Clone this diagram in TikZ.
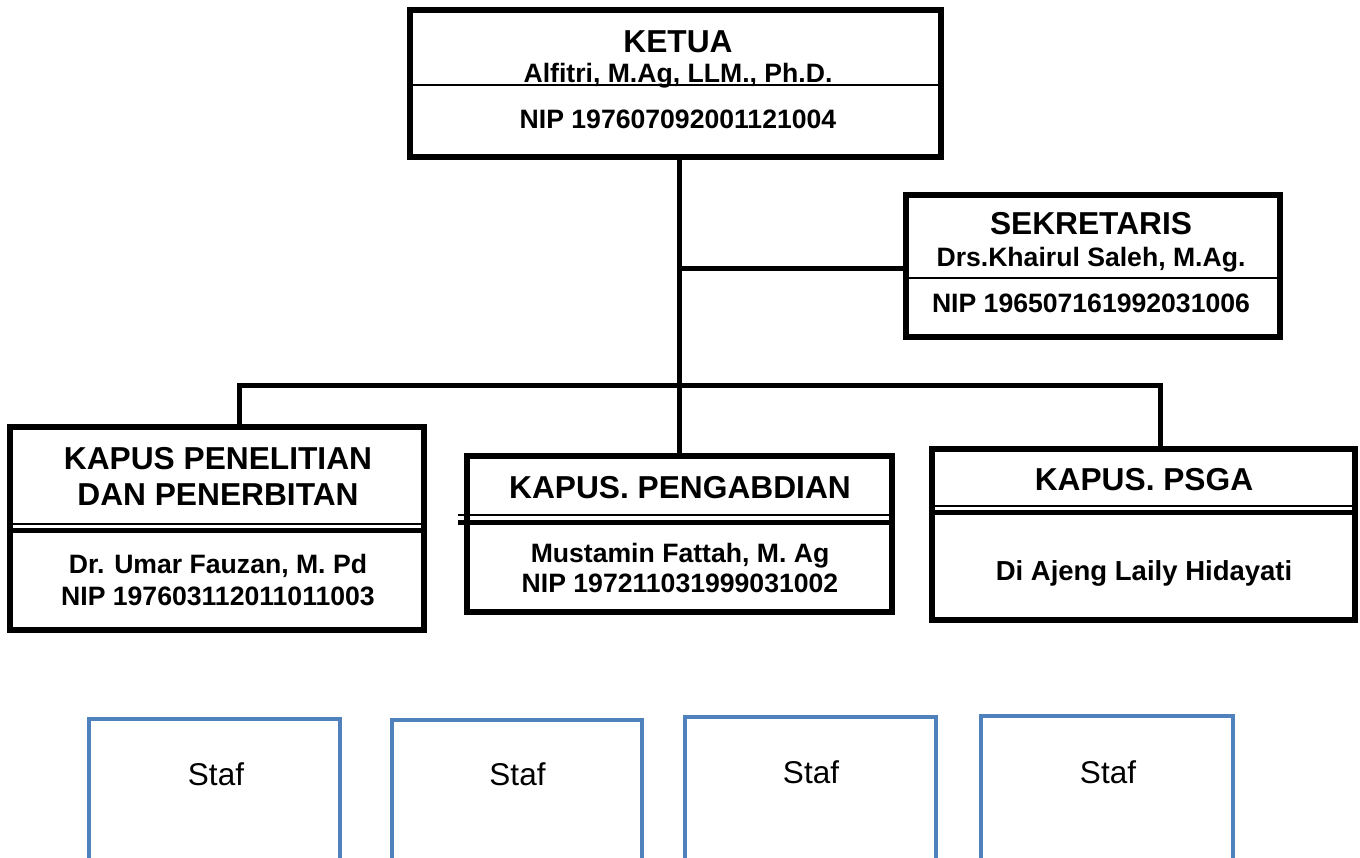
\documentclass[tikz,border=0pt]{standalone}
\usepackage{fontspec}
\setmainfont{Liberation Sans}
\definecolor{stafblue}{HTML}{4F81BD}
\begin{document}
\begin{tikzpicture}[x=1pt,y=-1pt,
  orgbox/.style={draw=black, line width=5.5pt, rectangle, inner sep=0pt, fill=white},
  link/.style={draw=black, line width=5pt},
  divline/.style={draw=black, line width=1.6pt},
  thickdiv/.style={draw=black, line width=5pt},
  titletext/.style={font=\bfseries\fontsize{31.7}{36}\selectfont, anchor=base, inner sep=0pt},
  nametext/.style={font=\bfseries\fontsize{26.6}{31}\selectfont, anchor=base, inner sep=0pt},
  staftext/.style={font=\fontsize{31.5}{36}\selectfont, anchor=base, inner sep=0pt},
  stafbox/.style={draw=stafblue, line width=4.5pt, rectangle, inner sep=0pt, minimum width=251pt},
]
\useasboundingbox (0,0) rectangle (1360,858);

% boxes
\node[orgbox, minimum width=531pt, minimum height=147pt] (ketua) at (675.5,83.5) {};
\node[orgbox, minimum width=374pt, minimum height=142pt] (sek) at (1093,266) {};
\node[orgbox, minimum width=414pt, minimum height=203pt] (kpen) at (217,528.5) {};
\node[orgbox, minimum width=425pt, minimum height=156pt] (kpeng) at (679.5,534) {};
\node[orgbox, minimum width=423pt, minimum height=171pt] (kpsga) at (1143.5,534.5) {};

% dividers
\draw[divline] ([yshift=-78pt]ketua.north west) -- ([yshift=-78pt]ketua.north east);
\draw[divline] ([yshift=-86pt]sek.north west) -- ([yshift=-86pt]sek.north east);
\draw[divline] ([yshift=-99.5pt]kpen.north west) -- ([yshift=-99.5pt]kpen.north east);
\draw[thickdiv] ([yshift=-106pt]kpen.north west) -- ([yshift=-106pt]kpen.north east);
\draw[divline] ([yshift=-62pt,xshift=-6pt]kpeng.north west) -- ([yshift=-62pt]kpeng.north east);
\draw[thickdiv] ([yshift=-69.5pt,xshift=-6pt]kpeng.north west) -- ([yshift=-69.5pt]kpeng.north east);
\draw[divline] ([yshift=-60pt]kpsga.north west) -- ([yshift=-60pt]kpsga.north east);
\draw[thickdiv] ([yshift=-66.5pt]kpsga.north west) -- ([yshift=-66.5pt]kpsga.north east);

% connectors
\coordinate (busL) at (239.5,386);
\coordinate (busR) at (1160,386);
\draw[link] (kpeng.north |- ketua.south) -- (kpeng.north);
\draw[link] ([yshift=-3pt]sek.west) -- ([yshift=-3pt]sek.west -| kpeng.north);
\draw[link] (kpen.north -| busL) -- (busL) -- (busR) -- (kpsga.north -| busR);

% texts
\node[titletext] (tketua) at (678,53) {KETUA};
\node[nametext] (nketua) at (678,83) {Alfitri, M.Ag, LLM., Ph.D.};
\node[nametext] (pketua) at (678,129) {NIP 197607092001121004};

\node[titletext] (tsek) at (1091,235) {SEKRETARIS};
\node[nametext] (nsek) at (1091,267) {Drs.Khairul Saleh, M.Ag.};
\node[nametext] (psek) at (1091,313) {NIP 196507161992031006};

\node[titletext] (tkpen1) at (218,469) {KAPUS PENELITIAN};
\node[titletext] (tkpen2) at (218,505) {DAN PENERBITAN};
\node[nametext] (nkpen) at (218,573) {Dr. Umar Fauzan, M. Pd};
\node[nametext] (pkpen) at (218,605) {NIP 197603112011011003};

\node[titletext] (tkpeng) at (680,498) {KAPUS. PENGABDIAN};
\node[nametext] (nkpeng) at (680,562) {Mustamin Fattah, M. Ag};
\node[nametext] (pkpeng) at (680,592) {NIP 197211031999031002};

\node[titletext] (tkpsga) at (1144,490) {KAPUS. PSGA};
\node[nametext, font=\bfseries\fontsize{27.5}{32}\selectfont] (nkpsga) at (1144,580) {Di Ajeng Laily Hidayati};

% staf
\node[stafbox, minimum height=151pt] (staf1) at (214.5,794.5) {};
\node[stafbox, minimum width=250pt, minimum height=150pt] (staf2) at (517,795) {};
\node[stafbox, minimum height=153pt] (staf3) at (810.5,793.5) {};
\node[stafbox, minimum width=252pt, minimum height=154pt] (staf4) at (1107,793) {};
\node[staftext] (s1t) at (216,785) {Staf};
\node[staftext] (s2t) at (517.5,785) {Staf};
\node[staftext] (s3t) at (811,783) {Staf};
\node[staftext] (s4t) at (1108,783) {Staf};
\end{tikzpicture}
\end{document}
